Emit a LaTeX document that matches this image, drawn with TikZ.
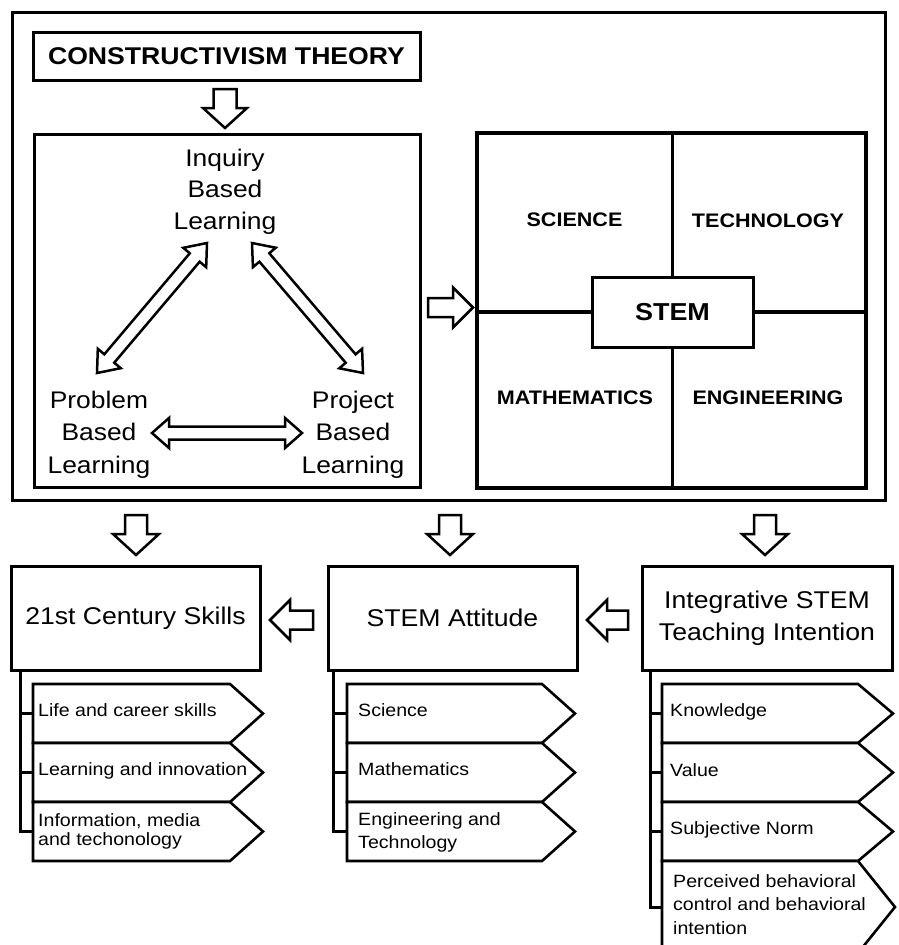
\documentclass[tikz,border=0pt]{standalone}
\usepackage{fontspec}
\setmainfont{Liberation Sans}[FakeStretch=1.1]
\usetikzlibrary{calc}
\newcommand\ftitle{\bfseries\fontsize{24.2}{29}\selectfont}
\newcommand\fbig{\fontsize{24}{31.5}\selectfont}
\newcommand\fpb{\fontsize{24}{32.5}\selectfont}
\newcommand\flow{\fontsize{24.2}{32}\selectfont}
\newcommand\fstem{\bfseries\fontsize{19.6}{24}\selectfont}
\newcommand\fstembig{\bfseries\fontsize{24.5}{29}\selectfont}
\newcommand\fitem{\fontsize{17.8}{23.5}\selectfont}
\newcommand\mlines[2]{\begin{tabular}[t]{@{}#1@{}}#2\end{tabular}}
\newcommand\blockarrow[5]{%
  \coordinate (bah) at ($(#2)!#5!(#1)$);
  \draw[arrowline] ($(#1)!#3!90:(#2)$) -- ($(bah)!#3!-90:(#1)$) -- ($(bah)!#4!-90:(#1)$) -- (#2) -- ($(bah)!#4!90:(#1)$) -- ($(bah)!#3!90:(#1)$) -- ($(#1)!#3!-90:(#2)$) -- cycle;}
\newcommand\dblarrow[5]{%
  \coordinate (daa) at ($(#1)!#5!(#2)$);
  \coordinate (dab) at ($(#2)!#5!(#1)$);
  \draw[arrowline] (#1) -- ($(daa)!#4!90:(#2)$) -- ($(daa)!#3!90:(#2)$) -- ($(dab)!#3!-90:(#1)$) -- ($(dab)!#4!-90:(#1)$) -- (#2) -- ($(dab)!#4!90:(#1)$) -- ($(dab)!#3!90:(#1)$) -- ($(daa)!#3!-90:(#2)$) -- ($(daa)!#4!-90:(#2)$) -- cycle;}
\newcommand\tagbox[5]{%
  \draw[tagline] (#1,#2) -- (#4,#2) -- (#5,{(#2+#3)/2}) -- (#4,#3) -- (#1,#3) -- cycle;}
\begin{document}
\begin{tikzpicture}[x=1pt,y=-1pt,
  thickbox/.style={draw, line width=3pt, inner sep=0pt},
  arrowline/.style={draw, fill=white, line width=2.5pt, line join=miter},
  tagline/.style={draw, fill=white, line width=2.6pt, line join=miter},
  bracket/.style={draw, line width=3pt},
  item/.style={font=\fitem, inner sep=0pt, anchor=base west},
  stemlbl/.style={font=\fstem, inner sep=0pt}]
\clip (0,0) rectangle (898,945);
\fill[white] (0,0) rectangle (898,945);

% upper frame
\node[thickbox, minimum width=873pt, minimum height=488pt] (outer) at (448.5,256) {};
\node[thickbox, minimum width=387pt, minimum height=48pt, font=\ftitle] (ct) at (226.5,56) {CONSTRUCTIVISM THEORY};
\node[thickbox, minimum width=386pt, minimum height=353pt] (pbl) at (227,310.5) {};

\node[font=\fbig, inner sep=0pt, anchor=base] (inq) at (225,166) {\mlines{c}{Inquiry\\Based\\Learning}};
\node[font=\fpb, inner sep=0pt, anchor=base] (prob) at (99,408) {\mlines{c}{Problem\\Based\\Learning}};
\node[font=\fpb, inner sep=0pt, anchor=base] (proj) at (353,408) {\mlines{c}{Project\\Based\\Learning}};

% STEM grid
\node[thickbox, line width=3.5pt, minimum width=389pt, minimum height=355pt] (grid) at (671.5,310.5) {};
\node[thickbox, minimum width=161pt, minimum height=70pt, font=\fstembig] (stem) at (672.5,312) {STEM};
\draw[line width=3.5pt] (grid.north -| stem) -- (stem.north);
\draw[line width=3.5pt] (stem.south) -- (grid.south -| stem);
\draw[line width=3.5pt] (grid.west |- stem) -- (stem.west);
\draw[line width=3.5pt] (stem.east) -- (grid.east |- stem);
\node[stemlbl] (sci) at (574.5,220) {SCIENCE};
\node[stemlbl] (tech) at (768,221) {TECHNOLOGY};
\node[stemlbl] (math) at (575,397.5) {MATHEMATICS};
\node[stemlbl] (eng) at (768,397.5) {ENGINEERING};

% lower boxes
\node[thickbox, minimum width=249pt, minimum height=104pt, font=\flow] (skills) at (135.5,618) {21st Century Skills};
\node[thickbox, minimum width=249pt, minimum height=104pt, font=\flow] (att) at (452.5,618) {STEM Attitude};
\node[thickbox, minimum width=250pt, minimum height=104pt, font=\flow, align=center] (intent) at (767,618) {Integrative STEM\\Teaching Intention};

% block arrows
\coordinate (a0s) at (225,89);  \coordinate (a0e) at (225,128);
\blockarrow{a0s}{a0e}{11.5pt}{22pt}{20pt}
\coordinate (a1s) at (428,307.5); \coordinate (a1e) at (473,307.5);
\blockarrow{a1s}{a1e}{9.5pt}{20pt}{20pt}
\coordinate (a2s) at (136,515); \coordinate (a2e) at (136,555);
\blockarrow{a2s}{a2e}{11pt}{23pt}{21pt}
\coordinate (a3s) at (450,515); \coordinate (a3e) at (450,555);
\blockarrow{a3s}{a3e}{11pt}{23pt}{21pt}
\coordinate (a4s) at (765,515); \coordinate (a4e) at (765,555);
\blockarrow{a4s}{a4e}{11pt}{23pt}{21pt}
\coordinate (a5s) at (313,620); \coordinate (a5e) at (270,620);
\blockarrow{a5s}{a5e}{9.5pt}{20pt}{20pt}
\coordinate (a6s) at (628,620); \coordinate (a6e) at (587,620);
\blockarrow{a6s}{a6e}{9.5pt}{20pt}{20pt}

% double arrows
\coordinate (d1a) at (97,373);  \coordinate (d1b) at (207,243);
\dblarrow{d1a}{d1b}{6.5pt}{15pt}{19pt}
\coordinate (d2a) at (363,373); \coordinate (d2b) at (252,243);
\dblarrow{d2a}{d2b}{6.5pt}{15pt}{19pt}
\coordinate (d3a) at (152,433); \coordinate (d3b) at (302,433);
\dblarrow{d3a}{d3b}{6.5pt}{15pt}{17pt}

% list 1
\draw[bracket] (20,0 |- skills.south) -- (20,831.5) -- (33,831.5);
\draw[bracket] (20,713.5) -- (33,713.5);
\draw[bracket] (20,772.5) -- (33,772.5);
\tagbox{33}{684}{743}{230}{263}
\tagbox{33}{743}{802}{230}{263}
\tagbox{33}{802}{861}{230}{263}
\node[item] (s1) at (38,716) {Life and career skills};
\node[item] (s2) at (38,775) {Learning and innovation};
\node[item, font=\fontsize{17.8}{19}\selectfont] (s3) at (38,826) {\mlines{l}{Information, media\\and techonology}};

% list 2
\draw[bracket] (333,0 |- att.south) -- (333,831.5) -- (347,831.5);
\draw[bracket] (333,713.5) -- (347,713.5);
\draw[bracket] (333,772.5) -- (347,772.5);
\tagbox{347}{684}{743}{542}{575}
\tagbox{347}{743}{802}{542}{575}
\tagbox{347}{802}{861}{542}{575}
\node[item] (m1) at (358,716) {Science};
\node[item] (m2) at (358,775) {Mathematics};
\node[item, font=\fontsize{17.8}{23}\selectfont] (m3) at (358,825) {\mlines{l}{Engineering and\\Technology}};

% list 3
\draw[bracket] (650,0 |- intent.south) -- (650,907) -- (662,907);
\draw[bracket] (650,713.5) -- (662,713.5);
\draw[bracket] (650,772.5) -- (662,772.5);
\draw[bracket] (650,831.5) -- (662,831.5);
\tagbox{662}{684}{743}{858}{893}
\tagbox{662}{743}{802}{858}{893}
\tagbox{662}{802}{861}{858}{893}
\tagbox{662}{861}{953}{858}{895}
\node[item] (k1) at (670,716) {Knowledge};
\node[item] (k2) at (670,776) {Value};
\node[item] (k3) at (670,834) {Subjective Norm};
\node[item] (k4) at (673,887) {\mlines{l}{Perceived behavioral\\control and behavioral\\intention}};
\end{tikzpicture}
\end{document}
